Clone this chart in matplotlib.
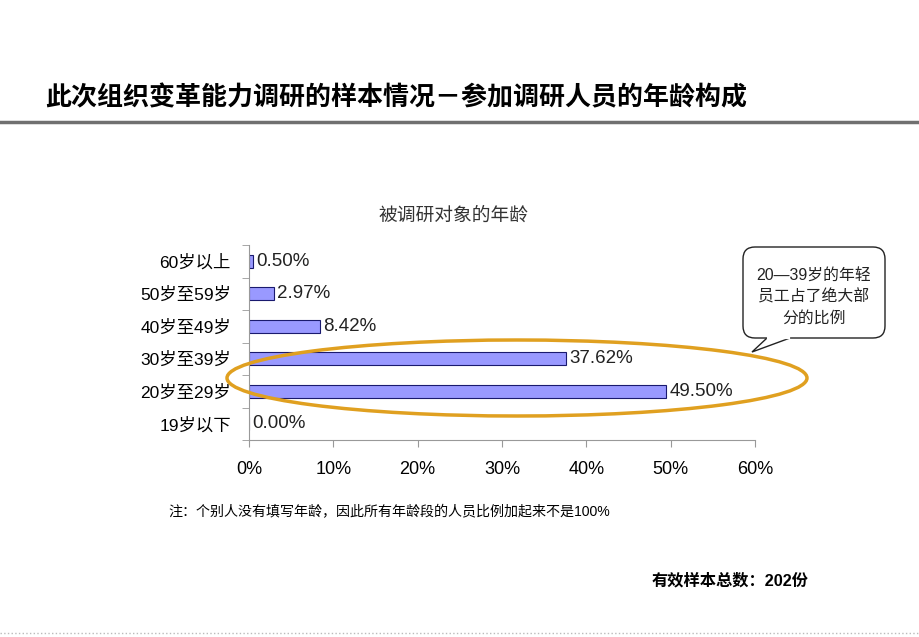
import matplotlib
matplotlib.use('Agg')
import matplotlib.pyplot as plt
from matplotlib.patches import Ellipse, FancyBboxPatch, Polygon

plt.rcParams['font.family'] = ['Liberation Sans', 'Noto Sans CJK SC']

# data, top to bottom as shown
categories = ['60岁以上', '50岁至59岁', '40岁至49岁', '30岁至39岁', '20岁至29岁', '19岁以下']
values = [0.50, 2.97, 8.42, 37.62, 49.50, 0.00]
xticks = [0, 10, 20, 30, 40, 50, 60]
xtick_labels = ['0%', '10%', '20%', '30%', '40%', '50%', '60%']

W, H = 920, 637
fig = plt.figure(figsize=(W / 100, H / 100), dpi=100)

# bar chart area (pixel box 249..755 x 245..440)
ax = fig.add_axes([249 / W, 1 - 440 / H, 506 / W, 195 / H])
pos = list(range(len(categories)))[::-1]
ax.barh(pos, values, height=0.4, color='#9999FF', edgecolor='#1a1a6e', linewidth=0.8)
for p, v in zip(pos, values):
    ax.text(v + 0.4, p, '%.2f%%' % v, va='center', ha='left', fontsize=13.5, color='#222222')

ax.set_xlim(0, 60)
ax.set_ylim(-0.5, len(categories) - 0.5)
ax.set_xticks(xticks)
ax.set_xticklabels(xtick_labels, fontsize=13)
ax.set_yticks(pos)
ax.set_yticklabels(categories, fontsize=12.5)
ax.set_yticks([i - 0.5 for i in range(len(categories) + 1)], minor=True)
ax.tick_params(axis='y', which='major', length=0, pad=13)
ax.tick_params(axis='y', which='minor', length=5, color='#999999')
ax.tick_params(axis='x', length=5, color='#999999', pad=10)
for s in ['top', 'right']:
    ax.spines[s].set_visible(False)
ax.spines['left'].set_color('#999999')
ax.spines['bottom'].set_color('#999999')

# overlay in pixel coordinates for annotations
ov = fig.add_axes([0, 0, 1, 1], facecolor='none')
ov.set_xlim(0, W)
ov.set_ylim(H, 0)
ov.axis('off')

ov.text(45, 98, '此次组织变革能力调研的样本情况－参加调研人员的年龄构成',
        fontsize=18.7, fontweight='bold', va='center', ha='left', color='black')
ov.plot([0, W], [122, 122], color='#707070', lw=2.5)
ov.text(453, 216, '被调研对象的年龄', fontsize=13.5, ha='center', va='center', color='#333333')
ov.text(168, 512, '注：个别人没有填写年龄，因此所有年龄段的人员比例加起来不是100%',
        fontsize=10.1, ha='left', va='center', color='black')
ov.text(652, 581, '有效样本总数：202份', fontsize=11.7, fontweight='bold',
        ha='left', va='center', color='black')
ov.plot([0, W], [633, 633], color='#bbbbbb', lw=1, ls=':')

ov.add_patch(Ellipse((517, 378), 580, 76, fill=False, edgecolor='#E0A020', lw=2.5))

# speech bubble
ov.add_patch(FancyBboxPatch((743, 247), 142, 91, boxstyle='round,pad=0,rounding_size=12',
                            facecolor='white', edgecolor='#222222', lw=1))
ov.add_patch(Polygon([(767, 338), (752, 352), (790, 338)], closed=False,
                     facecolor='white', edgecolor='#222222', lw=1))
ov.plot([768, 789], [338, 338], color='white', lw=1.6)
ov.text(814, 297, '20—39岁的年轻\n员工占了绝大部\n分的比例', fontsize=11.4,
        ha='center', va='center', linespacing=1.45, color='#222222')

fig.savefig('out.png', dpi=100)
